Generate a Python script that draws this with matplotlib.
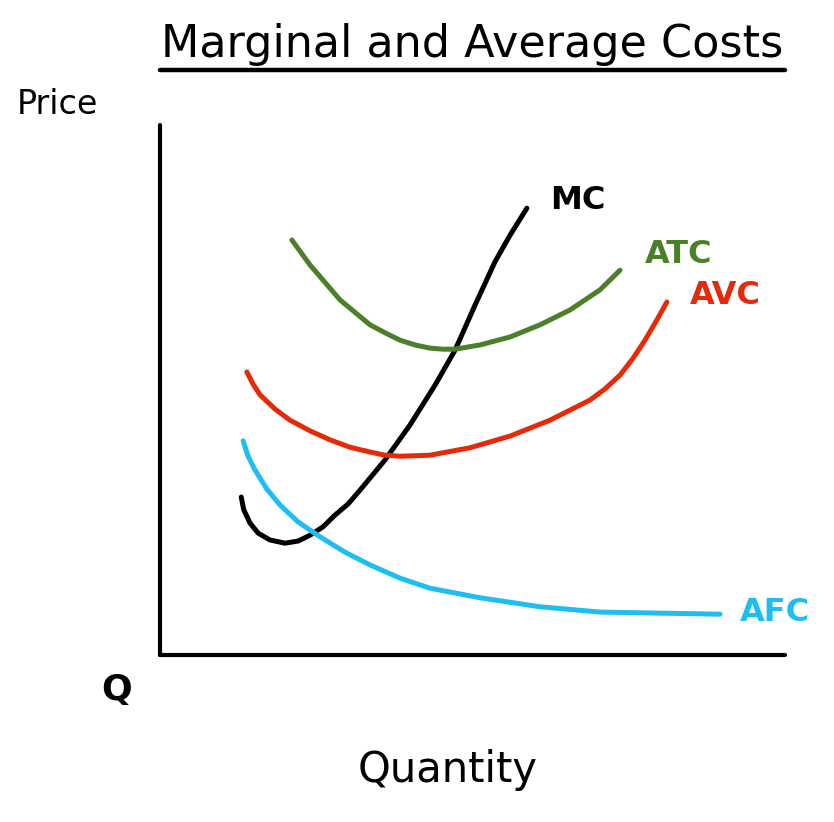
import numpy as np
import matplotlib
matplotlib.use("Agg")
import matplotlib.pyplot as plt
from matplotlib.lines import Line2D

# curve points (quantity, price), axis range 0..10
mc_q = [1.30, 1.34, 1.44, 1.57, 1.76, 2.00, 2.21, 2.40, 2.61, 2.80, 3.01, 3.20, 3.60, 4.00,
        4.40, 4.72, 5.04, 5.36, 5.60, 5.87]
mc_p = [2.98, 2.74, 2.49, 2.30, 2.17, 2.11, 2.15, 2.26, 2.42, 2.64, 2.85, 3.11, 3.68, 4.34,
        5.09, 5.75, 6.60, 7.42, 7.92, 8.43]

atc_q = [2.11, 2.40, 2.88, 3.36, 3.60, 3.84, 4.08, 4.32, 4.53, 4.72, 5.12, 5.60, 6.08, 6.56, 7.04, 7.36]
atc_p = [7.83, 7.36, 6.70, 6.23, 6.08, 5.94, 5.85, 5.79, 5.77, 5.77, 5.85, 6.00, 6.23, 6.51, 6.89, 7.26]

avc_q = [1.39, 1.49, 1.60, 1.84, 2.08, 2.40, 2.72, 3.04, 3.36, 3.60, 3.84, 4.32, 4.96, 5.60,
         6.24, 6.88, 7.12, 7.36, 7.57, 7.76, 7.94, 8.11]
avc_p = [5.34, 5.11, 4.91, 4.64, 4.43, 4.23, 4.06, 3.92, 3.83, 3.77, 3.75, 3.77, 3.91, 4.13,
         4.43, 4.81, 5.02, 5.28, 5.60, 5.94, 6.30, 6.66]

afc_q = [1.33, 1.41, 1.52, 1.71, 1.92, 2.21, 2.56, 2.96, 3.36, 3.84, 4.32, 5.12, 6.08, 7.04, 8.00, 8.96]
afc_p = [4.04, 3.75, 3.49, 3.13, 2.83, 2.51, 2.23, 1.94, 1.70, 1.45, 1.26, 1.08, 0.91, 0.81, 0.79, 0.77]

labels = ["MC", "ATC", "AVC", "AFC"]
label_pos = [(6.69, 8.58), (8.29, 7.55), (9.04, 6.79), (9.84, 0.81)]
colors = ["#000000", "#4c7f2a", "#e52a0a", "#1ebef0"]

fig = plt.figure(figsize=(8.34, 8.22), dpi=100)
ax = fig.add_axes([160/834, 1-655/822, 625/834, 530/822])

curves = [(mc_q, mc_p), (atc_q, atc_p), (avc_q, avc_p), (afc_q, afc_p)]
for (q, p), c in zip(curves, colors):
    ax.plot(q, p, color=c, lw=3.6, solid_capstyle="round", solid_joinstyle="round")

for lab, (x, y), c in zip(labels, label_pos, colors):
    ax.text(x, y, lab, color=c, fontsize=23, fontweight="bold",
            ha="center", va="center", clip_on=False)

ax.set_xlim(0, 10)
ax.set_ylim(0, 10)
ax.set_xticks([])
ax.set_yticks([])
for s in ["top", "right"]:
    ax.spines[s].set_visible(False)
for s in ["left", "bottom"]:
    ax.spines[s].set_linewidth(3)
    ax.spines[s].set_capstyle("round")

fig.text(472/834, 1-45/822, "Marginal and Average Costs", fontsize=32,
         ha="center", va="center")
fig.add_artist(Line2D([160/834, 785/834], [1-70/822, 1-70/822], color="black", lw=3.2,
                      solid_capstyle="round"))
fig.text(57/834, 1-105/822, "Price", fontsize=24, ha="center", va="center")
fig.text(117/834, 1-690/822, "Q", fontsize=26, fontweight="bold", ha="center", va="center")
fig.text(448/834, 1-770/822, "Quantity", fontsize=30, ha="center", va="center")

fig.savefig("out.png", dpi=100, facecolor="white")
